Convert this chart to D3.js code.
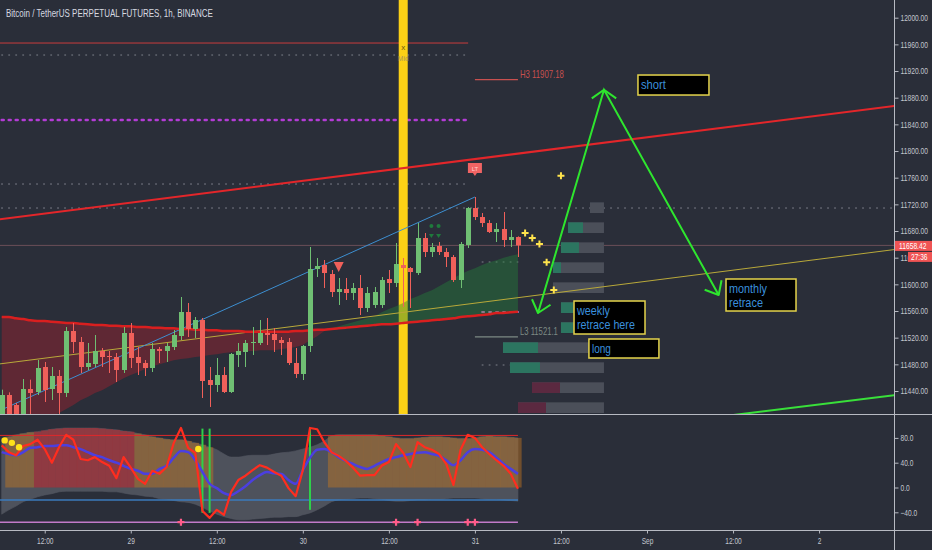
<!DOCTYPE html>
<html>
<head>
<meta charset="utf-8">
<script src="https://cdn.jsdelivr.net/npm/d3@7"></script>
<style>
html, body { margin: 0; padding: 0; background: #2a2e39; overflow: hidden; }
svg { display: block; }
text { font-family: "Liberation Sans", Arial, sans-serif; }
</style>
</head>
<body>
<svg width="932" height="550"></svg>
<script>
// ---------- data: BTCUSDT perp 1h candles, 28 Aug 06:00 -> 31 Aug 06:00 ----------
var open = [11404,11434,11419,11404,11443,11438.5,11476,11443,11462.5,11437,
  11530,11513.5,11476,11480.5,11500,11492.5,11491,11471.5,11527,11491,
  11482,11474.5,11503,11500,11506,11522.5,11558.5,11533,11546.5,11456.5,
  11449,11464,11438.5,11494,11498.5,11512,11512,11527,11525.5,11516.5,
  11513.5,11482,11465.5,11507.5,11623,11629,11615.5,11588.5,11593,11587,
  11594.5,11564.5,11569,11569,11608,11602,11629,11624.5,11617,11669.5,
  11648.5,11657.5,11648.5,11641,11606.5,11659,11714.5,11701,11692,11678.5,
  11683,11666.5,11671];
var high = [11442,11438,11422,11458,11457,11486.5,11483.5,11476,11471.5,11536,
  11542,11521,11512,11524,11504.5,11500,11497,11536,11542,11506,
  11486.5,11512,11506,11512,11531.5,11581,11572,11551,11549.5,11476,
  11489.5,11476,11497,11512,11516.5,11536,11546.5,11549.5,11534.5,11521,
  11519.5,11504.5,11509,11656,11639.5,11636.5,11621.5,11609.5,11609.5,11602,
  11614,11596,11596,11611,11621.5,11662,11639.5,11626,11692,11677,
  11662,11663.5,11654.5,11644,11663.5,11716,11731,11707,11696.5,11692,
  11708.5,11681.5,11672];
var low = [11397,11397,11382,11397,11404,11434,11423.5,11426.5,11404,11431,
  11497,11467,11471.5,11476,11476,11467,11453.5,11467,11474.5,11464,
  11462.5,11468.5,11482,11483.5,11501.5,11516.5,11521,11519.5,11429.5,11416,
  11438.5,11437,11437,11476,11476,11494,11509,11509,11498.5,11494,
  11479,11459.5,11456.5,11498.5,11611,11594.5,11581,11569,11576.5,11576.5,
  11554,11558.5,11564.5,11564.5,11587,11596,11566,11564.5,11614,11641,
  11641,11644,11626,11603.5,11594.5,11654.5,11696.5,11686,11677,11663.5,
  11656,11656,11641];
var close = [11434,11404,11389,11443,11437,11474.5,11441.5,11462.5,11437,11530,
  11513.5,11476,11482,11500,11491,11491,11471.5,11527,11489.5,11482,
  11474.5,11503,11500,11507.5,11524,11558.5,11533,11546.5,11455,11449,
  11464,11438.5,11495.5,11500,11512,11513.5,11527,11524,11516.5,11512,
  11482,11465.5,11507.5,11623,11627.5,11617,11588.5,11593,11587,11594.5,
  11564.5,11587,11588.5,11606.5,11602,11630.5,11624.5,11618.5,11669.5,11648.5,
  11656,11648.5,11641,11606.5,11660.5,11714.5,11701,11692,11678.5,11683,
  11666.5,11671,11658.42];

// two moving averages (red line = maSlow, cloud edge = maFast)
var maSlow = [11551,11551,11549,11548,11546,11545,11545,11544,11543,11542,
  11542,11541,11540,11539,11539,11538,11538,11537,11537,11536,
  11536,11535,11535,11534,11534,11533,11533,11532,11532,11531,
  11531,11530,11530,11530,11529,11529,11529,11529,11529,11529,
  11529,11530,11530,11531,11532,11532,11533,11534,11535,11536,
  11537,11538,11539,11540,11540,11541,11542,11543,11544,11545,
  11546,11547,11548,11549,11551,11552,11553,11554,11555,11557,
  11557,11558,11559];
var maFast = [11367,11373,11379,11385,11390,11396,11399,11402,11407,11413,
  11419,11426,11431,11437,11441,11447,11453,11459,11464,11468,
  11473,11477,11480,11483,11486,11488,11489,11491,11492,11494,
  11495,11497,11498,11498,11500,11500,11501,11501,11501,11503,
  11504,11506,11509,11516,11522,11530,11534,11537,11540,11543,
  11546,11549,11552,11558,11563,11567,11572,11578,11582,11587,
  11591,11597,11603,11609,11615,11620,11624,11629,11633,11636,
  11640,11643,11645];

// oscillator pane
var oscRed = [68,57,52,67,70,77,62,40,65,85,77,46,44,49,41,35,15,49,32,14,
  6,27,22,33,72,96,64,56,-38,-49,-36,-44,-7,12,19,28,36,32,25,19,
  -1,-14,28,96,94,73,57,51,43,32,19,20,20,35,41,70,56,33,73,65,
  61,54,38,4,61,85,80,65,54,44,35,22,-2];
var oscBlue = [57,54,52,57,64,65,67,67,68,68,65,62,57,52,49,44,40,35,30,27,
  22,22,30,35,48,59,57,44,25,6,-1,-9,-12,-6,2,12,20,25,23,22,
  12,6,28,48,61,62,57,49,43,38,33,30,35,41,46,49,52,54,56,57,
  54,51,44,36,44,57,62,61,57,48,38,30,22];
var bandUp = [79,82,85,87,89,90,92,94,95,96,96,96,96,96,95,94,93,91,90,87,
  85,82,80,78,77,77,75,72,69,65,61,54,49,49,51,52,52,52,54,56,
  57,59,62,65,69,75,83,85,85,85,85,85,85,83,82,80,79,79,80,81,
  82,82,81,80,79,79,80,82,83,82,82,81,80];
var bandLow = [-43,-36,-30,-23,-19,-15,-12,-10,-7,-6,-6,-6,-6,-6,-6,-7,-7,-9,-11,-12,
  -14,-15,-18,-19,-21,-23,-24,-27,-32,-38,-43,-47,-50,-52,-52,-51,-50,-49,-48,-48,
  -47,-47,-44,-41,-36,-30,-23,-20,-19,-18,-17,-17,-18,-19,-21,-22,-22,-21,-20,-20,
  -19,-19,-18,-17,-17,-17,-17,-18,-19,-19,-20,-21,-22];
// 0 = none, 1 = orange, 2 = red background zone
var zone = [0,1,1,1,1,2,2,2,2,2,2,2,2,2,2,2,2,2,2,1,
  1,1,1,1,1,1,1,1,1,1,0,0,0,0,0,0,0,0,0,0,
  0,0,0,0,0,0,1,1,1,1,1,1,1,1,1,1,1,1,1,1,
  1,1,1,1,1,1,1,1,1,1,1,1,1];
var oscDots = [{i: 0, v: 76}, {i: 1, v: 72}, {i: 2, v: 65}, {i: 27, v: 62}];
var oscCross = [25, 55, 58, 65, 66];
var oscSignals = [{i: 28, top: 95, bottom: -41}, {i: 29, top: 95, bottom: -41}, {i: 43, top: 95, bottom: -36}];
var oscLevels = [{v: 84, color: "#e0282a", w: 1}, {v: -20, color: "#3b7bbd", w: 1.5}, {v: -56, color: "#c27ac9", w: 1.5}];

// pivot levels (price, from candle index, to candle index)
var levels = [
  {p: 11962, from: -1, to: 65, style: "red"},
  {p: 11944, from: 0, to: 65, style: "dot"},
  {p: 11846.5, from: 0, to: 65, style: "purple"},
  {p: 11750.5, from: -1, to: 65, style: "dot"},
  {p: 11714.5, from: -1, to: 130, style: "dot"},
  {p: 11633.5, from: 67, to: 72, style: "dot"},
  {p: 11558.5, from: 67, to: 72, style: "pink"},
  {p: 11479, from: 67, to: 72, style: "dot"}
];
var pivotLabels = [{name: "H3", p: 11907.18, color: "#c8504f", w: 44}, {name: "L3", p: 11521.1, color: "#7d8a84", w: 38}];

// drawn trend lines: two anchor points each (candle index, price)
var trendLines = [
  {a: [0, 11698], b: [120, 11861.5], color: "#e3262a", w: 2},
  {a: [0, 11481], b: [120, 11646], color: "#b9a93a", w: 1},
  {a: [0, 11412], b: [66, 11731], color: "#3d8fd1", w: 1, stop: true},
  {a: [96, 11396], b: [124, 11433], color: "#39e03a", w: 2}
];

// visible-range volume profile
var vpLevels = [11715, 11685, 11655, 11625, 11595, 11565, 11535, 11505, 11475, 11445, 11415];
var vpTotal = [14, 36, 43, 51, 51, 43, 43, 101, 94, 72, 86];
var vpPart = [0, 15, 18, 8, 0, 12, 12, 35, 30, 28, 28];
var vpSide = ["up", "up", "up", "up", "up", "up", "up", "up", "up", "down", "down"];

// markers
var plusMarks = [{i: 73, p: 11677}, {i: 74, p: 11669.5}, {i: 75, p: 11660.5}, {i: 76, p: 11633}, {i: 77, p: 11591.5}, {i: 78, p: 11763}];
var zigzag = [{i: 74.8, p: 11557}, {i: 84, p: 11892}, {i: 100, p: 11584}];
var notes = [
  {lines: ["short"], widths: [25], i: 88.74, p: 11914, w: 71, h: 20},
  {lines: ["weekly", "retrace here"], widths: [33, 58], i: 79.82, p: 11575, w: 71, h: 33},
  {lines: ["long"], widths: [19], i: 81.9, p: 11518, w: 70, h: 19},
  {lines: ["monthly", "retrace"], widths: [38, 34], i: 101.02, p: 11608, w: 70, h: 32}
];
var priceTicks = d3.range(11440, 12001, 40);
var oscTicks = [80, 40, 0, -40];
var lastPrice = 11658.42;

// ---------- layout ----------
var plotRight = 894, mainBottom = 414, oscTop = 415, oscBottom = 530;
var bg = "#2a2e39", upColor = "#6fbf73", downColor = "#f0605a";

var t0 = Date.UTC(2020, 7, 28, 6);
var hour = 3600 * 1000;
function tm(i) { return new Date(t0 + i * hour); }

var x = d3.scaleUtc().domain([tm(0), tm(120)]).range([1.7, 1.7 + 7.17 * 120]);
var y = d3.scaleLinear().domain([11440, 12000]).range([391, 17.7]);
var yo = d3.scaleLinear().domain([-40, 80]).range([512.3, 437.9]);
function xi(i) { return x(tm(i)); }

// the terminal font is condensed: squeeze a text horizontally to a target width
function squeeze(sel, w) {
  sel.each(function () {
    var n = this;
    var L = n.getComputedTextLength();
    var target = typeof w === "function" ? w(n.textContent) : w;
    var s = L > 0 ? target / L : 1;
    var px = +n.getAttribute("x") || 0, py = +n.getAttribute("y") || 0;
    n.setAttribute("x", 0);
    n.setAttribute("y", 0);
    n.setAttribute("transform", "translate(" + px + "," + py + ") scale(" + s.toFixed(3) + ",1)");
  });
}
function labelWidth(s) {
  var w = 0;
  for (var k = 0; k < s.length; k++) {
    var c = s[k];
    w += /[0-9]/.test(c) ? 3.65 : (c === "." || c === ":") ? 1.9 : c === "-" ? 2.6 : 3.9;
  }
  return w;
}

var svg = d3.select("svg");
svg.append("rect").attr("width", 932).attr("height", 550).attr("fill", bg);

var defs = svg.append("defs");
defs.append("clipPath").attr("id", "clipMain")
  .append("rect").attr("x", 0).attr("y", 0).attr("width", plotRight).attr("height", mainBottom);
defs.append("clipPath").attr("id", "clipOsc")
  .append("rect").attr("x", 0).attr("y", oscTop).attr("width", plotRight).attr("height", oscBottom - oscTop);

var main = svg.append("g").attr("clip-path", "url(#clipMain)");
var osc = svg.append("g").attr("clip-path", "url(#clipOsc)");

// title
svg.append("text").attr("x", 6).attr("y", 17)
  .attr("fill", "#d6d9e0").style("font-size", "10.2px")
  .text("Bitcoin / TetherUS PERPETUAL FUTURES, 1h, BINANCE")
  .call(squeeze, 207);

// last price line
main.append("line")
  .attr("x1", 0).attr("x2", plotRight)
  .attr("y1", y(lastPrice)).attr("y2", y(lastPrice))
  .attr("stroke", "#6b4e58").attr("stroke-width", 1);

// pivot levels
var levelStyle = {
  red: {stroke: "#c93d3d", w: 1, dash: null},
  dot: {stroke: "#7e828c", w: 1, dash: "1,6"},
  purple: {stroke: "#b43cd6", w: 2.5, dash: "2,5"},
  pink: {stroke: "#d46fc4", w: 2, dash: "2,5"}
};
main.selectAll(".level").data(levels).enter().append("line")
  .attr("x1", function (d) { return xi(d.from); })
  .attr("x2", function (d) { return xi(d.to); })
  .attr("y1", function (d) { return y(d.p); })
  .attr("y2", function (d) { return y(d.p); })
  .attr("stroke", function (d) { return levelStyle[d.style].stroke; })
  .attr("stroke-width", function (d) { return levelStyle[d.style].w; })
  .attr("stroke-linecap", "round")
  .attr("stroke-dasharray", function (d) { return levelStyle[d.style].dash; });

// H3 / L3 pivot segments with labels
pivotLabels.forEach(function (d) {
  main.append("line")
    .attr("x1", xi(66)).attr("x2", xi(72))
    .attr("y1", y(d.p)).attr("y2", y(d.p))
    .attr("stroke", d.color).attr("stroke-width", 1.2);
  main.append("text")
    .attr("x", xi(72) + 2).attr("y", y(d.p) - 2)
    .attr("fill", d.color).style("font-size", "10px")
    .text(d.name + " " + d.p)
    .call(squeeze, d.w);
});

// yellow vertical highlight (30 Aug 14:00)
main.append("rect")
  .attr("x", xi(56) - 4.5).attr("y", 0)
  .attr("width", 9).attr("height", mainBottom)
  .attr("fill", "#fcd116");
main.append("text").attr("x", xi(56)).attr("y", 50)
  .attr("text-anchor", "middle").attr("fill", "#6b5a10")
  .style("font-size", "8px").text("x");
main.append("text").attr("x", xi(56)).attr("y", 61)
  .attr("text-anchor", "middle").attr("fill", "#8a8270").attr("opacity", 0.7)
  .style("font-size", "7px").text("Mid");

// MA cloud
var idx = d3.range(open.length);
var cloudRed = d3.area()
  .x(function (i) { return xi(i); })
  .y0(function (i) { return y(maSlow[i]); })
  .y1(function (i) { return y(Math.min(maSlow[i], maFast[i])); });
var cloudGreen = d3.area()
  .x(function (i) { return xi(i); })
  .y0(function (i) { return y(maSlow[i]); })
  .y1(function (i) { return y(Math.max(maSlow[i], maFast[i])); });
main.append("path").datum(idx).attr("d", cloudRed)
  .attr("fill", "#b51f2c").attr("opacity", 0.38);
main.append("path").datum(idx).attr("d", cloudGreen)
  .attr("fill", "#24843a").attr("opacity", 0.42);

// volume profile
var vpX = d3.scaleLinear().domain([0, 100]).range([0, 100]);
var vpRight = xi(84);
var vp = main.append("g");
vp.selectAll(".vpTotal").data(vpLevels).enter().append("rect")
  .attr("x", function (d, k) { return vpRight - vpX(vpTotal[k]); })
  .attr("y", function (d) { return y(d + 8); })
  .attr("width", function (d, k) { return vpX(vpTotal[k]); })
  .attr("height", function (d) { return y(d - 8) - y(d + 8); })
  .attr("fill", "#4b4f59");
vp.selectAll(".vpPart").data(vpLevels).enter().append("rect")
  .attr("x", function (d, k) { return vpRight - vpX(vpTotal[k]); })
  .attr("y", function (d) { return y(d + 8); })
  .attr("width", function (d, k) { return vpX(vpPart[k]); })
  .attr("height", function (d) { return y(d - 8) - y(d + 8); })
  .attr("fill", function (d, k) { return vpSide[k] === "up" ? "#2c7560" : "#5b2940"; });

// trend lines (extended to the right edge unless they stop)
trendLines.forEach(function (d) {
  var slope = (d.b[1] - d.a[1]) / (d.b[0] - d.a[0]);
  var i0 = d.stop ? d.a[0] : d.a[0] - 2, i1 = d.stop ? d.b[0] : 130;
  main.append("line")
    .attr("x1", xi(i0)).attr("y1", y(d.a[1] + slope * (i0 - d.a[0])))
    .attr("x2", xi(i1)).attr("y2", y(d.a[1] + slope * (i1 - d.a[0])))
    .attr("stroke", d.color).attr("stroke-width", d.w);
});

// slow MA line
main.append("path").datum(idx)
  .attr("d", d3.line().x(function (i) { return xi(i); }).y(function (i) { return y(maSlow[i]); }).curve(d3.curveMonotoneX))
  .attr("fill", "none").attr("stroke", "#d91f1f").attr("stroke-width", 2.5);

// candles
var candle = main.selectAll(".candle").data(idx).enter().append("g")
  .attr("fill", function (i) { return close[i] >= open[i] ? upColor : downColor; })
  .attr("stroke", function (i) { return close[i] >= open[i] ? upColor : downColor; });
candle.append("line")
  .attr("x1", function (i) { return Math.round(xi(i)) + 0.5; })
  .attr("x2", function (i) { return Math.round(xi(i)) + 0.5; })
  .attr("y1", function (i) { return y(high[i]); })
  .attr("y2", function (i) { return y(low[i]); })
  .attr("stroke-width", 1);
candle.append("rect")
  .attr("x", function (i) { return Math.round(xi(i)) - 2; })
  .attr("y", function (i) { return y(Math.max(open[i], close[i])); })
  .attr("width", 5)
  .attr("height", function (i) { return Math.max(1, Math.abs(y(open[i]) - y(close[i]))); })
  .attr("stroke", "none");

// signal markers
var tx = xi(47), ty = y(11626);
main.append("path")
  .attr("d", "M" + (tx - 5) + "," + (ty - 5) + "L" + (tx + 5) + "," + (ty - 5) + "L" + tx + "," + (ty + 5) + "Z")
  .attr("fill", "#f0605a");
var lx = xi(66), ly = y(11771.5);
main.append("path")
  .attr("d", "M" + (lx - 7) + "," + (ly - 7) + "h14v10h-5l-2,3l-2,-3h-5z")
  .attr("fill", "#f06464");
main.append("text").attr("x", lx).attr("y", ly + 1)
  .attr("text-anchor", "middle").attr("fill", "#ffd0d0")
  .style("font-size", "6px").text("LT");
[60, 61].forEach(function (i) {
  var gx = xi(i) - 0.5;
  main.append("circle").attr("cx", gx).attr("cy", y(11687.5)).attr("r", 2)
    .attr("fill", "#1f7a3c");
  main.append("path")
    .attr("d", "M" + (gx - 2.5) + "," + (y(11672.5) - 2) + "h5l-2.5,4z")
    .attr("fill", "#1f7a3c");
});
main.selectAll(".plus").data(plusMarks).enter().append("path")
  .attr("d", function (d) {
    var px = xi(d.i), py = y(d.p);
    return "M" + (px - 3.5) + "," + py + "h7M" + px + "," + (py - 3.5) + "v7";
  })
  .attr("stroke", "#ffe44d").attr("stroke-width", 2);

// green zigzag with arrow heads
var zz = zigzag.map(function (d) { return [xi(d.i), y(d.p)]; });
main.append("path").attr("d", d3.line()(zz))
  .attr("fill", "none").attr("stroke", "#2ee62e").attr("stroke-width", 2);
function head(tip, from, half, len) {
  var a = Math.atan2(from[1] - tip[1], from[0] - tip[0]);
  var p1 = [tip[0] + len * Math.cos(a - half), tip[1] + len * Math.sin(a - half)];
  var p2 = [tip[0] + len * Math.cos(a + half), tip[1] + len * Math.sin(a + half)];
  return "M" + p1 + "L" + tip + "L" + p2;
}
var topFrom = [zz[1][0], zz[1][1] + 40];
[head(zz[0], zz[1], 0.7, 15), head(zz[1], topFrom, 0.95, 15), head(zz[2], zz[1], 0.7, 15)].forEach(function (d) {
  main.append("path").attr("d", d)
    .attr("fill", "none").attr("stroke", "#2ee62e").attr("stroke-width", 2)
    .attr("stroke-linejoin", "round");
});

// text notes
var note = main.selectAll(".note").data(notes).enter().append("g")
  .attr("transform", function (d) { return "translate(" + xi(d.i) + "," + y(d.p) + ")"; });
note.append("rect")
  .attr("width", function (d) { return d.w; })
  .attr("height", function (d) { return d.h; })
  .attr("fill", "#000").attr("stroke", "#e5d44c").attr("stroke-width", 1.5);
note.each(function (d) {
  var g = d3.select(this);
  d.lines.forEach(function (t, k) {
    g.append("text").attr("x", 3).attr("y", 14 + k * 13.5)
      .attr("fill", "#3a8fdc").style("font-size", "12.5px").text(t)
      .call(squeeze, d.widths[k]);
  });
});

// ---------- oscillator pane ----------
osc.append("path").datum(idx)
  .attr("d", d3.area().x(function (i) { return xi(i); })
    .y0(function (i) { return yo(bandLow[i]); })
    .y1(function (i) { return yo(bandUp[i]); })
    .curve(d3.curveMonotoneX))
  .attr("fill", "#9a9ea8").attr("opacity", 0.32)
  .attr("stroke", "#a6aab3").attr("stroke-opacity", 0.6);

osc.selectAll(".zone").data(idx.filter(function (i) { return zone[i] > 0; })).enter().append("rect")
  .attr("x", function (i) { return xi(i) - 3.6; })
  .attr("y", function (i) { return yo(bandUp[i]); })
  .attr("width", 7.3)
  .attr("height", function (i) { return yo(0) - yo(bandUp[i]); })
  .attr("fill", function (i) { return zone[i] === 2 ? "#c4262d" : "#c8781e"; })
  .attr("opacity", function (i) { return zone[i] === 2 ? 0.55 : 0.45; });

osc.selectAll(".oscLevel").data(oscLevels).enter().append("line")
  .attr("x1", 0).attr("x2", xi(72))
  .attr("y1", function (d) { return yo(d.v); })
  .attr("y2", function (d) { return yo(d.v); })
  .attr("stroke", function (d) { return d.color; })
  .attr("stroke-width", function (d) { return d.w; });

osc.selectAll(".sig").data(oscSignals).enter().append("line")
  .attr("x1", function (d) { return xi(d.i); })
  .attr("x2", function (d) { return xi(d.i); })
  .attr("y1", function (d) { return yo(d.top); })
  .attr("y2", function (d) { return yo(d.bottom); })
  .attr("stroke", "#2ed04a").attr("stroke-width", 2);

osc.append("path").datum(idx)
  .attr("d", d3.line().x(function (i) { return xi(i); }).y(function (i) { return yo(oscBlue[i]); }).curve(d3.curveMonotoneX))
  .attr("fill", "none").attr("stroke", "#4b3fe0").attr("stroke-width", 2.5);
osc.append("path").datum(idx)
  .attr("d", d3.line().x(function (i) { return xi(i); }).y(function (i) { return yo(oscRed[i]); }))
  .attr("fill", "none").attr("stroke", "#ff2d1f").attr("stroke-width", 2.2)
  .attr("stroke-linejoin", "round");

osc.selectAll(".odot").data(oscDots).enter().append("circle")
  .attr("cx", function (d) { return xi(d.i) + 3; })
  .attr("cy", function (d) { return yo(d.v); })
  .attr("r", 3.2).attr("fill", "#ffe21a");

osc.selectAll(".ocross").data(oscCross).enter().append("path")
  .attr("d", function (i) {
    var px = xi(i), py = yo(-56);
    return "M" + (px - 3.5) + "," + py + "h7M" + px + "," + (py - 3.5) + "v7";
  })
  .attr("stroke", "#ff5c8a").attr("stroke-width", 2.2);

// ---------- axes ----------
var axisColor = "#b7bac2", labelColor = "#c3c6ce";
svg.append("line").attr("x1", plotRight + 0.5).attr("x2", plotRight + 0.5)
  .attr("y1", 0).attr("y2", 550).attr("stroke", axisColor);
svg.append("line").attr("x1", 0).attr("x2", 932)
  .attr("y1", mainBottom + 0.5).attr("y2", mainBottom + 0.5).attr("stroke", axisColor);
svg.append("line").attr("x1", 0).attr("x2", 932)
  .attr("y1", oscBottom + 0.5).attr("y2", oscBottom + 0.5).attr("stroke", axisColor);

var yAxis = svg.append("g").attr("transform", "translate(" + (plotRight + 0.5) + ",0)")
  .call(d3.axisRight(y).tickValues(priceTicks).tickSize(4).tickFormat(d3.format(".2f")));
var oAxis = svg.append("g").attr("transform", "translate(" + (plotRight + 0.5) + ",0)")
  .call(d3.axisRight(yo).tickValues(oscTicks).tickSize(4).tickFormat(d3.format(".1f")));

var timeTicks = d3.range(6, 115, 12).map(tm);
var xAxis = svg.append("g").attr("transform", "translate(0," + (oscBottom + 0.5) + ")")
  .call(d3.axisBottom(x).tickValues(timeTicks).tickSize(3).tickFormat(function (d) {
    if (d.getUTCHours() === 12) return "12:00";
    return d.getUTCDate() === 1 ? "Sep" : String(d.getUTCDate());
  }));
yAxis.selectAll("text").attr("x", 6);
oAxis.selectAll("text").attr("x", 6);
xAxis.selectAll("text").attr("y", 7);

[yAxis, oAxis, xAxis].forEach(function (a) {
  a.select(".domain").remove();
  a.selectAll(".tick line").attr("stroke", axisColor);
  a.selectAll("text").attr("fill", labelColor).style("font-size", "9px")
    .style("font-family", "\"Liberation Sans\", Arial, sans-serif")
    .call(squeeze, labelWidth);
});

// last price label and bar countdown
svg.append("rect").attr("x", plotRight + 1).attr("y", y(lastPrice) - 4.5)
  .attr("width", 38).attr("height", 10).attr("fill", "#f05454");
svg.append("text").attr("x", plotRight + 5).attr("y", y(lastPrice) + 3.5)
  .attr("fill", "#ffffff").style("font-size", "9px").text(lastPrice.toFixed(2))
  .call(squeeze, labelWidth);
svg.append("rect").attr("x", 908).attr("y", y(lastPrice) + 6.5)
  .attr("width", 24).attr("height", 10).attr("fill", "#f05454");
svg.append("text").attr("x", 911).attr("y", y(lastPrice) + 14.5)
  .attr("fill", "#ffffff").style("font-size", "9px").text("27:36")
  .call(squeeze, labelWidth);
</script>
</body>
</html>
